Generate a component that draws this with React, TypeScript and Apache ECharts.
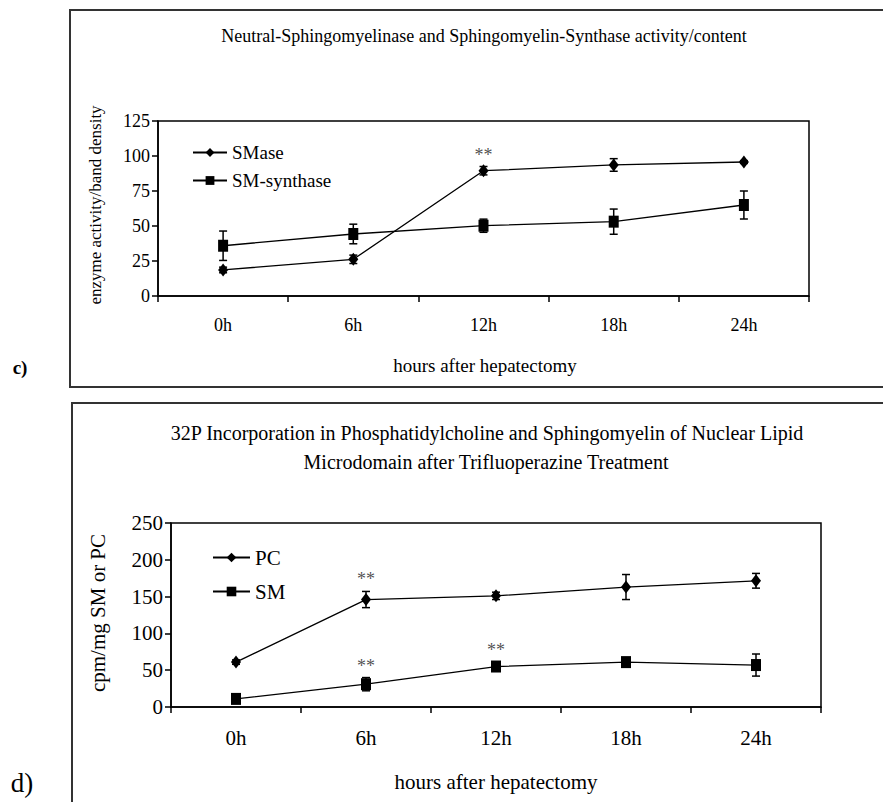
import React, { useEffect, useRef } from "react";
import * as echarts from "echarts";

const categories = ["0h", "6h", "12h", "18h", "24h"];

// Panel c)
const smase = [18.6, 26.2, 89.5, 93.6, 95.7];
const smaseErr = [2, 3, 3, 4.5, 1];
const smSynthase = [35.9, 44.3, 50.2, 53.1, 65];
const smSynthaseErr = [10.5, 7, 4.7, 9, 10];
const topSigSmase = [false, false, true, false, false];
const topYTicks = { min: 0, max: 125, interval: 25 };

// Panel d)
const pc = [61, 146, 151, 163, 171.5];
const pcErr = [3, 11, 5, 17, 10];
const sm = [11, 31, 55, 61, 57];
const smErr = [5, 9, 6, 3, 15];
const botSigPc = [false, true, false, false, false];
const botSigSm = [false, true, true, false, false];
const botYTicks = { min: 0, max: 250, interval: 50 };

const FONT = "'Liberation Serif', 'Times New Roman', serif";

function errData(vals: number[], errs: number[]) {
  return vals.map((v, i) => [i, v - errs[i], v + errs[i]]);
}
function sigData(vals: number[], errs: number[], sig: boolean[]) {
  return vals
    .map((v, i) => (sig[i] ? [i, v + errs[i]] : null))
    .filter((d) => d !== null);
}

function errorSeries(name: string, vals: number[], errs: number[], gi: number) {
  return {
    type: "custom",
    name: name + " err",
    xAxisIndex: gi,
    yAxisIndex: gi,
    z: 1,
    silent: true,
    data: errData(vals, errs),
    renderItem: (params: any, api: any) => {
      const x = api.value(0);
      const lo = api.coord([x, api.value(1)]);
      const hi = api.coord([x, api.value(2)]);
      const w = 4;
      const st = { stroke: "#000", lineWidth: 1.5 };
      return {
        type: "group",
        children: [
          { type: "line", shape: { x1: lo[0], y1: lo[1], x2: hi[0], y2: hi[1] }, style: st },
          { type: "line", shape: { x1: hi[0] - w, y1: hi[1], x2: hi[0] + w, y2: hi[1] }, style: st },
          { type: "line", shape: { x1: lo[0] - w, y1: lo[1], x2: lo[0] + w, y2: lo[1] }, style: st },
        ],
      };
    },
  };
}

function lineSeries(name: string, vals: number[], symbol: string, size: number[], gi: number) {
  return {
    type: "line",
    name,
    xAxisIndex: gi,
    yAxisIndex: gi,
    data: vals,
    symbol,
    symbolSize: size,
    showAllSymbol: true,
    z: 3,
    lineStyle: { color: "#000", width: 1.3 },
    itemStyle: { color: "#000", borderWidth: 0 },
  };
}

function sigSeries(vals: number[], errs: number[], sig: boolean[], gi: number) {
  return {
    type: "scatter",
    xAxisIndex: gi,
    yAxisIndex: gi,
    symbolSize: 0,
    silent: true,
    data: sigData(vals, errs, sig),
    label: {
      show: true,
      formatter: "**",
      position: "top",
      distance: 3,
      fontFamily: FONT,
      fontSize: 18,
      color: "#222",
    },
  };
}

function xAxis(gi: number, fs: number) {
  return {
    type: "category",
    gridIndex: gi,
    data: categories,
    boundaryGap: true,
    axisLine: { lineStyle: { color: "#000", width: 1.5 } },
    axisTick: { show: true, length: 6, lineStyle: { color: "#000", width: 1.5 } },
    axisLabel: { fontFamily: FONT, fontSize: fs, color: "#000", margin: 20 },
    splitLine: { show: false },
  };
}
function yAxis(gi: number, t: any, fs: number) {
  return {
    type: "value",
    gridIndex: gi,
    min: t.min,
    max: t.max,
    interval: t.interval,
    axisLine: { show: true, lineStyle: { color: "#000", width: 1.5 } },
    axisTick: { show: true, length: 6, lineStyle: { color: "#000", width: 1.5 } },
    axisLabel: { fontFamily: FONT, fontSize: fs, color: "#000", margin: 8 },
    splitLine: { show: false },
  };
}

export default function App() {
  const ref = useRef<HTMLDivElement>(null);
  useEffect(() => {
    if (!ref.current) return;
    const chart = echarts.init(ref.current, null, { renderer: "svg" });
    chart.setOption({
      animation: false,
      backgroundColor: "#fff",
      grid: [
        { left: 158, top: 121, width: 651, height: 175, show: true, borderColor: "#000", borderWidth: 1.5, backgroundColor: "transparent" },
        { left: 171, top: 523, width: 650, height: 184, show: true, borderColor: "#000", borderWidth: 1.5, backgroundColor: "transparent" },
      ],
      xAxis: [xAxis(0, 18), xAxis(1, 21)],
      yAxis: [yAxis(0, topYTicks, 18), yAxis(1, botYTicks, 21)],
      legend: [
        {
          data: ["SMase", "SM-synthase"],
          orient: "vertical",
          left: 192,
          top: 143,
          padding: 0,
          itemWidth: 34,
          itemHeight: 11,
          itemGap: 9,
          selectedMode: false,
          textStyle: { fontFamily: FONT, fontSize: 19, color: "#000" },
        },
        {
          data: ["PC", "SM"],
          orient: "vertical",
          left: 212,
          top: 547,
          padding: 0,
          itemWidth: 37,
          itemHeight: 12,
          itemGap: 13,
          selectedMode: false,
          textStyle: { fontFamily: FONT, fontSize: 21, color: "#000" },
        },
      ],
      graphic: [
        { type: "rect", shape: { x: 70, y: 10, width: 900, height: 377 }, style: { fill: "none", stroke: "#333", lineWidth: 2 }, silent: true },
        { type: "rect", shape: { x: 72, y: 403, width: 900, height: 500 }, style: { fill: "none", stroke: "#333", lineWidth: 2 }, silent: true },
        { type: "text", x: 484, y: 36, style: { text: "Neutral-Sphingomyelinase and Sphingomyelin-Synthase activity/content", font: `18px ${FONT}`, fill: "#000", align: "center", verticalAlign: "middle" } },
        { type: "text", x: 95, y: 205, rotation: Math.PI / 2, style: { text: "enzyme activity/band density", font: `17px ${FONT}`, fill: "#000", align: "center", verticalAlign: "middle" } },
        { type: "text", x: 485, y: 365, style: { text: "hours after hepatectomy", font: `19px ${FONT}`, fill: "#000", align: "center", verticalAlign: "middle" } },
        { type: "text", x: 20, y: 367, style: { text: "c)", font: `bold 19px ${FONT}`, fill: "#000", align: "center", verticalAlign: "middle" } },
        { type: "text", x: 487, y: 433, style: { text: "32P Incorporation in Phosphatidylcholine and Sphingomyelin of Nuclear Lipid", font: `20px ${FONT}`, fill: "#000", align: "center", verticalAlign: "middle" } },
        { type: "text", x: 486, y: 462, style: { text: "Microdomain after Trifluoperazine Treatment", font: `20px ${FONT}`, fill: "#000", align: "center", verticalAlign: "middle" } },
        { type: "text", x: 98, y: 613, rotation: Math.PI / 2, style: { text: "cpm/mg SM or PC", font: `21px ${FONT}`, fill: "#000", align: "center", verticalAlign: "middle" } },
        { type: "text", x: 496, y: 782, style: { text: "hours after hepatectomy", font: `21px ${FONT}`, fill: "#000", align: "center", verticalAlign: "middle" } },
        { type: "text", x: 22, y: 783, style: { text: "d)", font: `27px ${FONT}`, fill: "#000", align: "center", verticalAlign: "middle" } },
      ],
      series: [
        errorSeries("SMase", smase, smaseErr, 0),
        errorSeries("SM-synthase", smSynthase, smSynthaseErr, 0),
        lineSeries("SMase", smase, "diamond", [10, 13], 0),
        lineSeries("SM-synthase", smSynthase, "rect", [10, 12], 0),
        sigSeries(smase, smaseErr, topSigSmase, 0),
        errorSeries("PC", pc, pcErr, 1),
        errorSeries("SM", sm, smErr, 1),
        lineSeries("PC", pc, "diamond", [10, 13], 1),
        lineSeries("SM", sm, "rect", [10, 12], 1),
        sigSeries(pc, pcErr, botSigPc, 1),
        sigSeries(sm, smErr, botSigSm, 1),
      ],
    });
    return () => chart.dispose();
  }, []);
  return <div ref={ref} style={{ position: "fixed", left: 0, top: 0, width: 883, height: 802 }} />;
}
